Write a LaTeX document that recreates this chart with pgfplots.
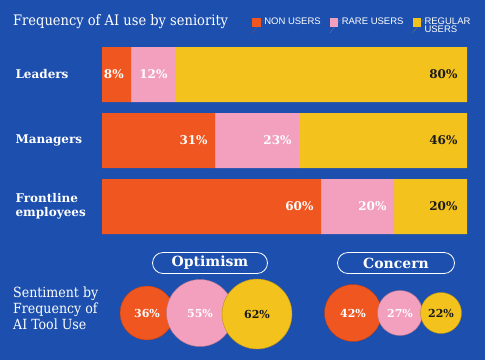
\documentclass[border=0pt]{standalone}
\usepackage{pgfplots}
\usepackage{pgfplotstable}
\pgfplotsset{compat=1.18}
\usepackage{fontspec}
\setmainfont{DejaVu Serif}
\newfontfamily\cserif{DejaVu Serif Condensed}
\newfontfamily\lserif{Liberation Serif}
\newfontfamily\lsans{Liberation Sans}
\definecolor{bgblue}{HTML}{1C4FAE}
\definecolor{cOrange}{HTML}{F0561F}
\definecolor{cPink}{HTML}{F2A0BE}
\definecolor{cYellow}{HTML}{F3C21C}
\definecolor{cInk}{HTML}{1A1A1A}

\pgfplotstableread{
cat non rare regular
0 8 12 80
1 31 23 46
2 60 20 20
}\bars

\begin{document}
\begin{tikzpicture}
\useasboundingbox (0,0) rectangle (485pt,360pt);
\fill[bgblue] (0,0) rectangle (485pt,360pt);
% ---------- canvas axis: texts and bubbles ----------
\begin{axis}[
  at={(0pt,0pt)}, anchor=south west,
  width=485pt, height=360pt, scale only axis,
  xmin=0, xmax=485, ymin=0, ymax=360, y dir=reverse,
  hide axis, clip=false,
]
\node[anchor=west, text=white, font=\cserif\fontsize{14.5}{14.5}\selectfont, inner sep=0pt] at (axis cs:13,22) {Frequency of AI use by seniority};
\node[anchor=west, align=left, text=cInk, font=\lserif\fontsize{8}{10}\selectfont, inner sep=0pt] at (axis cs:188,78)
  {Leaders within companies are\\four times more likely than\\frontline employees to be\\regular users of AI tools};
\node[anchor=west, align=left, text=white, font=\cserif\fontsize{14}{16}\selectfont, inner sep=0pt] at (axis cs:13,308)
  {Sentiment by\\Frequency of\\AI Tool Use};
\node[draw=white, line width=0.8pt, rounded corners=10.5pt, minimum width=115pt, minimum height=21pt, text=white, font=\bfseries\fontsize{14}{14}\selectfont, inner sep=0pt] at (axis cs:210,263) {Optimism};
\node[draw=white, line width=0.8pt, rounded corners=10.5pt, minimum width=117pt, minimum height=21pt, text=white, font=\bfseries\fontsize{14}{14}\selectfont, inner sep=0pt] at (axis cs:396,263) {Concern};
\pgfplotsset{bub/.style={only marks, mark=*, mark options={fill=#1, draw=#1!75!black, line width=0.4pt},
  point meta=explicit symbolic, nodes near coords={\pgfplotspointmeta},
  every node near coord/.append style={anchor=center, font=\bfseries\fontsize{11}{11}\selectfont}}}
% Optimism
\addplot[bub=cOrange, mark size=27pt, every node near coord/.append style={text=white}] coordinates {(147,313) [36\%]};
\addplot[bub=cPink, mark size=33.5pt, every node near coord/.append style={text=white}] coordinates {(200,313) [55\%]};
\addplot[bub=cYellow, mark size=35pt, every node near coord/.append style={text=cInk}] coordinates {(257,314) [62\%]};
% Concern
\addplot[bub=cOrange, mark size=28.5pt, every node near coord/.append style={text=white}] coordinates {(353,313) [42\%]};
\addplot[bub=cPink, mark size=22.5pt, every node near coord/.append style={text=white}] coordinates {(400,313) [27\%]};
\addplot[bub=cYellow, mark size=20.5pt, every node near coord/.append style={text=cInk}] coordinates {(441,313) [22\%]};
\end{axis}
% ---------- bar axis ----------
\begin{axis}[
  at={(102pt,120.5pt)}, anchor=south west,
  width=365pt, height=198pt, scale only axis,
  xbar stacked, bar width=55pt,
  xmin=0, xmax=100, ymin=-0.5, ymax=2.5, y dir=reverse,
  axis line style={draw=none}, tick style={draw=none},
  xtick=\empty, ytick={0,1,2},
  yticklabels={Leaders, Managers, {Frontline\\employees}},
  yticklabel style={anchor=west, align=left, xshift=-90pt, text=white,
    font=\bfseries\fontsize{12}{14}\selectfont},
  clip=false,
  point meta=explicit,
  /pgf/number format/assume math mode=true,
  nodes near coords={\pgfmathprintnumber{\pgfplotspointmeta}\%},
  legend columns=3,
  legend style={at={(0.403,1.135)}, anchor=north west, draw=none, fill=none,
    text=white, font=\lsans\fontsize{9.5}{8}\selectfont,
    nodes={align=left, inner sep=1pt},
    /tikz/every even column/.append style={column sep=8pt}},
  legend image code/.code={\path (0pt,-7pt) -- (11pt,7pt);\fill[#1] (0pt,-0.5pt) rectangle (8.5pt,8pt);},
]
\addplot[fill=cOrange, draw=none, visualization depends on={\thisrow{non}\as\segw},
  every node near coord/.append style={text=white, anchor=east, xshift={\segw*1.825pt-4pt}, font=\bfseries\fontsize{12}{12}\selectfont}]
  table[x=non, y=cat, meta=non]{\bars};
\addplot[fill=cPink, draw=none, visualization depends on={\thisrow{rare}\as\segw},
  every node near coord/.append style={text=white, anchor=east, xshift={\segw*1.825pt-4pt}, font=\bfseries\fontsize{12}{12}\selectfont}]
  table[x=rare, y=cat, meta=rare]{\bars};
\addplot[fill=cYellow, draw=none, visualization depends on={\thisrow{regular}\as\segw},
  every node near coord/.append style={text=cInk, anchor=east, xshift={\segw*1.825pt-6pt}, font=\bfseries\fontsize{12}{12}\selectfont}]
  table[x=regular, y=cat, meta=regular]{\bars};
\legend{{NON USERS\\\mbox{}}, {RARE USERS\\\mbox{}}, {REGULAR\\USERS}}
\end{axis}
\end{tikzpicture}
\end{document}
